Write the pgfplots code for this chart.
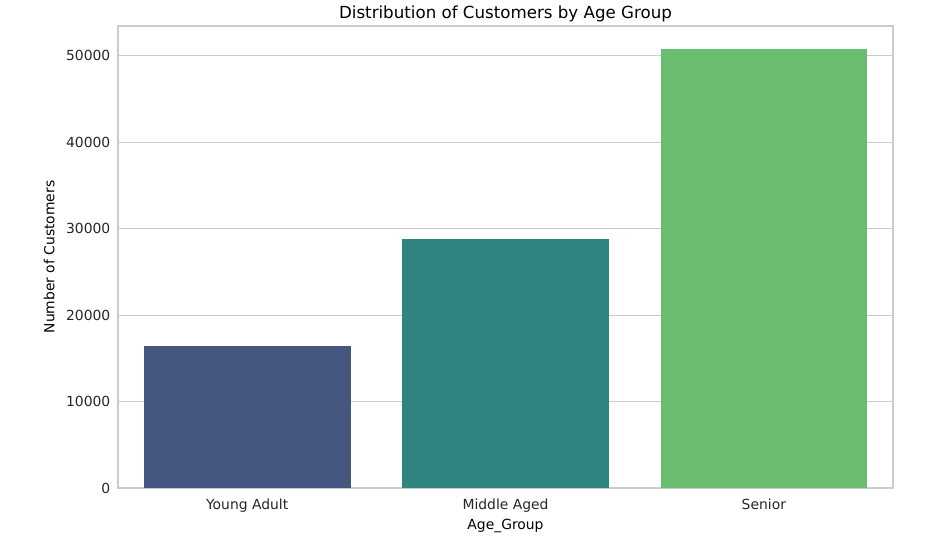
\documentclass[border=0pt]{standalone}
\usepackage{fontspec}
\setmainfont{DejaVu Sans}
\usepackage{pgfplots}
\pgfplotsset{compat=1.18}
\definecolor{cYoung}{HTML}{455780}
\definecolor{cMid}{HTML}{2E857F}
\definecolor{cSen}{HTML}{6ABC6F}
\definecolor{gridc}{HTML}{CCCCCC}
\definecolor{txt}{HTML}{262626}
\begin{document}
\begin{tikzpicture}[x=0.72pt,y=0.72pt]
\useasboundingbox (-118,-69) rectangle (834,488);
\begin{axis}[
  scale only axis,
  width=775*0.72pt, height=462*0.72pt,
  at={(0,0)}, anchor=south west,
  xmin=-0.5, xmax=2.5,
  ymin=0, ymax=53460,
  xtick={0,1,2},
  xticklabels={Young Adult, Middle Aged, Senior},
  ytick={0,10000,20000,30000,40000,50000},
  scaled y ticks=false,
  /pgf/number format/assume math mode=true,
  yticklabel={\pgfmathprintnumber[fixed,1000 sep={}]{\tick}},
  tick style={draw=none},
  ymajorgrids, grid style={gridc, line width=0.8pt},
  axis line style={gridc, line width=0.8pt},
  tick label style={font=\fontsize{10}{12}\selectfont, text=txt},
  xticklabel style={yshift=-4.6pt},
  yticklabel style={xshift=-2pt},
  xlabel={Age\_Group},
  ylabel={Number of Customers},
  label style={font=\fontsize{10}{12}\selectfont, text=black},
  xlabel style={yshift=2.5pt},
  ylabel style={yshift=1.5pt},
  title={Distribution of Customers by Age Group},
  title style={font=\fontsize{12}{14}\selectfont, yshift=-6.5pt},
  axis on top=false,
]
\addplot[ybar, bar width=0.8, fill=cYoung, draw=none] coordinates {(0,16440)};
\addplot[ybar, bar width=0.8, fill=cMid, draw=none] coordinates {(1,28850)};
\addplot[ybar, bar width=0.8, fill=cSen, draw=none] coordinates {(2,50780)};
\end{axis}
\end{tikzpicture}
\end{document}
